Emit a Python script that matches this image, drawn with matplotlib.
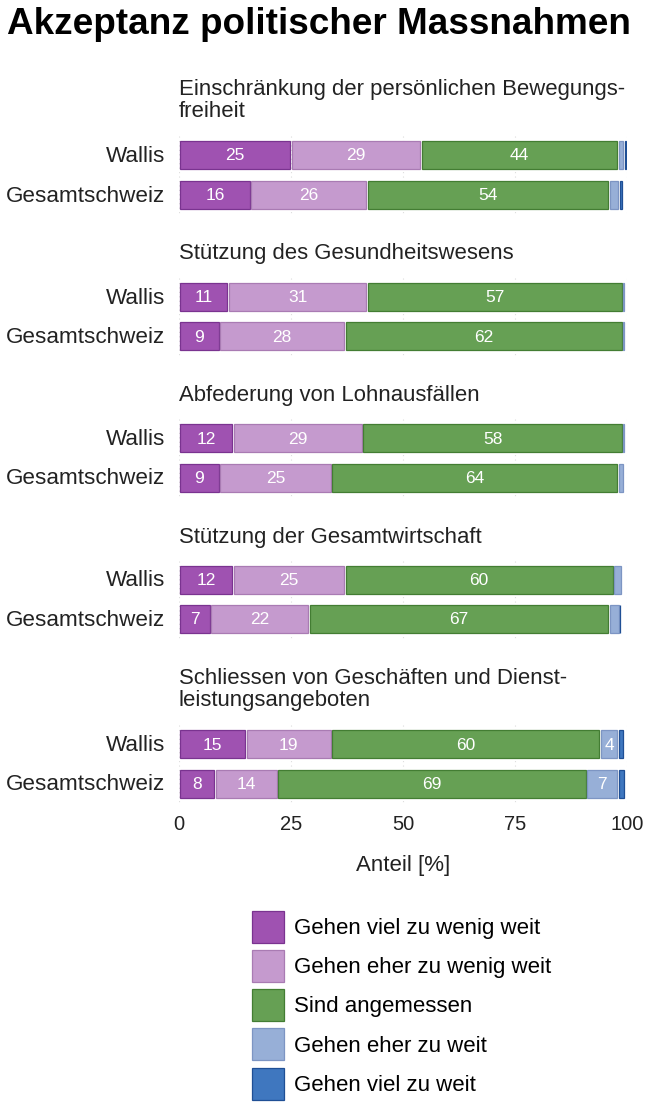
import numpy as np
import matplotlib.pyplot as plt
from matplotlib.patches import Patch

plt.rcParams['font.family'] = ['Liberation Sans', 'DejaVu Sans']

# --- data ---
title = 'Akzeptanz politischer Massnahmen'
topics = ['Einschränkung der persönlichen Bewegungs-\nfreiheit',
          'Stützung des Gesundheitswesens',
          'Abfederung von Lohnausfällen',
          'Stützung der Gesamtwirtschaft',
          'Schliessen von Geschäften und Dienst-\nleistungsangeboten']
regions = ['Wallis', 'Gesamtschweiz']
categories = ['Gehen viel zu wenig weit', 'Gehen eher zu wenig weit',
              'Sind angemessen', 'Gehen eher zu weit', 'Gehen viel zu weit']

# shares in % per topic: [Wallis, Gesamtschweiz] x 5 categories
viel_zu_wenig = [[25, 16], [11, 9], [12, 9], [12, 7], [15, 8]]
eher_zu_wenig = [[29, 26], [31, 28], [29, 25], [25, 22], [19, 14]]
angemessen    = [[44, 54], [57, 62], [58, 64], [60, 67], [60, 69]]
eher_zu_weit  = [[1.3, 2.2], [0.4, 0.4], [0.4, 1.3], [1.8, 2.3], [4, 7]]
viel_zu_weit  = [[0.6, 0.8], [0, 0], [0, 0], [0, 0.4], [1.2, 1.6]]
series = [viel_zu_wenig, eher_zu_wenig, angemessen, eher_zu_weit, viel_zu_weit]

colors = ['#9f52b1', '#c59ace', '#66a054', '#97afd7', '#3f77bf']
edges = ['#7a3390', '#a97bb3', '#437d33', '#7d95c3', '#1f4f95']

# --- figure ---
W, H = 650, 1106
fig = plt.figure(figsize=(W / 100, H / 100), dpi=100)
top_px, bot_px = 60, 805
ax = fig.add_axes([179 / W, 1 - bot_px / H, 448 / W, (bot_px - top_px) / H])
ax.set_xlim(0, 100)
ax.set_ylim(bot_px, top_px)

fig.text(7 / W, 1 - 24 / H, title, fontsize=26.6, fontweight='bold',
         va='center', ha='left')

bar_h = 28
gap = 0.35
y_sub = 88
for t, topic in enumerate(topics):
    nlines = topic.count('\n') + 1
    ax.text(0, y_sub - 9, topic, fontsize=15.9, va='top', ha='left',
            linespacing=1.05, color='#222222')
    y_w = y_sub + 67 if nlines > 1 else y_sub + 44
    ys = [y_w, y_w + 39.5]
    ax.vlines([0, 25, 50, 75, 100], ys[0] - 19, ys[1] + 19,
              colors='#dddddd', linestyles=(0, (1, 3)), linewidth=0.8, zorder=0)
    for r, y in enumerate(ys):
        left = 0
        for c in range(5):
            v = series[c][t][r]
            if v > 0:
                ax.barh(y, v - gap, left=left + gap / 2, height=bar_h,
                        color=colors[c], edgecolor=edges[c], linewidth=0.9, zorder=2)
                if v >= 3:
                    ax.text(left + v / 2, y + 1, '%d' % round(v), color='white',
                            fontsize=12.5, ha='center', va='center', zorder=3)
            left += v
        ax.text(-3.0, y + 1.5, regions[r], fontsize=16.2, ha='right', va='center',
                color='#222222')
    y_sub = ys[1] + 58

ax.set_xticks([0, 25, 50, 75, 100])
ax.set_xticklabels(['0', '25', '50', '75', '100'], fontsize=14.5)
ax.tick_params(axis='x', length=0, pad=7, colors='#222222')
ax.set_yticks([])
for s in ax.spines.values():
    s.set_visible(False)
ax.set_xlabel('Anteil [%]', fontsize=16, labelpad=15, color='#222222')

handles = [Patch(facecolor=colors[i], edgecolor=edges[i], linewidth=0.9)
           for i in range(5)]
fig.legend(handles, categories, loc='upper left',
           bbox_to_anchor=(252 / W, 1 - 911 / H), frameon=False,
           fontsize=16, handlelength=1.44, handleheight=1.84,
           handletextpad=0.45, labelspacing=0.32, borderpad=0, borderaxespad=0)

fig.savefig('out.png', dpi=100, facecolor='white')
